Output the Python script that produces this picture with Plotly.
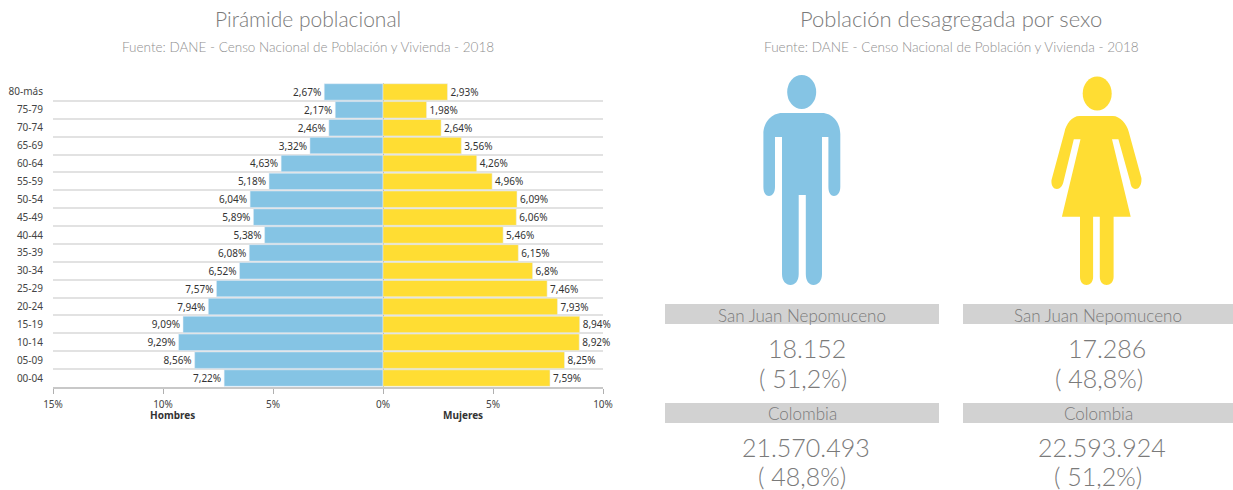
import plotly.graph_objects as go

age_groups = ["80-más","75-79","70-74","65-69","60-64","55-59","50-54","45-49","40-44","35-39","30-34","25-29","20-24","15-19","10-14","05-09","00-04"]
hombres = [2.67,2.17,2.46,3.32,4.63,5.18,6.04,5.89,5.38,6.08,6.52,7.57,7.94,9.09,9.29,8.56,7.22]
mujeres = [2.93,1.98,2.64,3.56,4.26,4.96,6.09,6.06,5.46,6.15,6.8,7.46,7.93,8.94,8.92,8.25,7.59]
tick_values = [-15,-10,-5,0,5,10]
tick_labels = ["15%","10%","5%","0%","5%","10%"]

BLUE = "#85C4E4"
YELLOW = "#FFDD33"
W, H = 1233, 490
LIGHT = "Lato"
LABEL = "Noto Sans"

def fmt(v):
    return f"{v:g}".replace(".", ",") + "%"

fig = go.Figure()
fig.add_trace(go.Bar(y=age_groups, x=[-v for v in hombres], orientation="h", marker=dict(color=BLUE),
                     text=[fmt(v) for v in hombres], textposition="outside", cliponaxis=False,
                     textfont=dict(size=10, color="#333", family=LABEL), name="Hombres"))
fig.add_trace(go.Bar(y=age_groups, x=mujeres, orientation="h", marker=dict(color=YELLOW),
                     text=[fmt(v) for v in mujeres], textposition="outside", cliponaxis=False,
                     textfont=dict(size=10, color="#333", family=LABEL), name="Mujeres"))
# pixel-mapped overlay axes for icons and text blocks
fig.add_trace(go.Scatter(x=[0], y=[0], xaxis="x2", yaxis="y2", mode="markers",
                         marker=dict(opacity=0), hoverinfo="skip", showlegend=False))

def man():
    return ("M 782 113 L 822 113 C 832 113 840.3 122 840.3 134 L 840.3 187 C 840.3 193 837 196 834 196 "
            "C 831 196 828.4 193 828.4 187 L 828.4 137 L 822 137 L 822 274 C 822 281 818 285 813.5 285 "
            "C 809 285 805.8 281 805.8 274 L 805.8 195 L 798.7 195 L 798.7 274 C 798.7 281 795 285 790.5 285 "
            "C 786 285 782 281 782 274 L 782 137 L 775 137 L 775 187 C 775 193 772 196 769 196 "
            "C 766 196 763.4 193 763.4 187 L 763.4 134 C 763.4 122 772 113 782 113 Z")

def woman():
    return ("M 1079.4 116 L 1112.8 116 C 1120 116 1127 124 1128.8 132 L 1141.4 178 C 1142 185 1139 189 1135.5 189 "
            "C 1132 189 1130.5 185 1130.3 182 L 1118.4 139.3 L 1112 139.3 L 1130.7 216.7 L 1113.6 216.7 L 1113.6 277 "
            "C 1113.6 282 1110 285 1106.7 285 C 1103 285 1099.8 282 1099.8 277 L 1099.8 216.7 L 1093.1 216.7 L 1093.1 277 "
            "C 1093.1 282 1090 285 1086.5 285 C 1083 285 1080 282 1080 277 L 1080 216.7 L 1061.9 216.7 L 1080.5 139.3 L 1073.8 139.3 "
            "L 1063.4 182 C 1062.5 186 1060 189 1057 189 C 1053 189 1051 185 1051.5 180 L 1064.5 132 C 1066 124 1072 116 1079.4 116 Z")

shapes = []
def rect(x0, x1, y0, y1):
    shapes.append(dict(type="rect", xref="x2", yref="y2", x0=x0, x1=x1, y0=y0, y1=y1,
                       fillcolor="#D2D2D2", line=dict(width=0), layer="below"))
rect(665,939,304,324); rect(963,1233,304,324); rect(665,939,403,423); rect(963,1233,403,423)
shapes.append(dict(type="path", xref="x2", yref="y2", path=man(), fillcolor=BLUE, line=dict(width=0)))
shapes.append(dict(type="path", xref="x2", yref="y2", path=woman(), fillcolor=YELLOW, line=dict(width=0)))
shapes.append(dict(type="circle", xref="x2", yref="y2", x0=787.2, x1=816.2, y0=75, y1=109, fillcolor=BLUE, line=dict(width=0)))
shapes.append(dict(type="circle", xref="x2", yref="y2", x0=1082.7, x1=1111.7, y0=76.5, y1=110.5, fillcolor=YELLOW, line=dict(width=0)))

annots = []
def txt(x, y, s, size, color="#7a7a7a", family=LIGHT, weight=300):
    annots.append(dict(xref="x2", yref="y2", x=x, y=y, text=s, showarrow=False, xanchor="center", yanchor="middle",
                       font=dict(size=size, color=color, family=family, weight=weight)))
txt(308,18,"Pirámide poblacional",21)
txt(308,47,"Fuente: DANE - Censo Nacional de Población y Vivienda - 2018",13.5,"#8f8f8f")
txt(951,18,"Población desagregada por sexo",22)
txt(951,47,"Fuente: DANE - Censo Nacional de Población y Vivienda - 2018",13.6,"#8f8f8f")
for x, xn, a, b, c, d in [(802,807,"18.152","( 51,2%)","21.570.493","( 48,8%)"),(1098,1107,"17.286","( 48,8%)","22.593.924","( 51,2%)")]:
    txt(x,315,"San Juan Nepomuceno",17)
    txt(x,413,"Colombia",17)
    txt(xn,348,a,25); txt(x+1,378,b,25); txt(x+4,447,c,25); txt(x,476,d,25)
txt(172,415,"Hombres",10,"#333",LABEL,700)
txt(463,415,"Mujeres",10,"#333",LABEL,700)

fig.update_layout(
    width=W, height=H, autosize=False, margin=dict(l=0,r=0,t=0,b=0),
    paper_bgcolor="white", plot_bgcolor="rgba(0,0,0,0)", showlegend=False,
    barmode="overlay", bargap=0.08, shapes=shapes, annotations=annots,
    xaxis=dict(domain=[53/W,603/W], range=[-15,10], tickvals=tick_values, ticktext=tick_labels, automargin=False,
               showgrid=False, zeroline=True, zerolinecolor="#aaaaaa", zerolinewidth=1,
               showline=True, linecolor="#c8c8c8", linewidth=2, ticks="outside", ticklen=5, tickcolor="#b0b0b0",
               tickfont=dict(size=10, color="#444", family=LABEL), ticklabelstandoff=2, fixedrange=True),
    yaxis=dict(domain=[1-387/H,1-83/H], type="category", categoryorder="array", categoryarray=age_groups, autorange="reversed", automargin=False,
               tickson="boundaries", showgrid=True, gridcolor="#e2e2e2", gridwidth=1.5, ticks="",
               tickfont=dict(size=10, color="#444", family=LABEL), ticklabelstandoff=9, fixedrange=True),
    xaxis2=dict(domain=[0,1], range=[0,W], visible=False, anchor="y2", fixedrange=True, automargin=False),
    yaxis2=dict(domain=[0,1], range=[H,0], visible=False, anchor="x2", fixedrange=True, automargin=False),
)
fig.write_html("out.html", config={"displayModeBar": False},
               post_script="document.body.style.margin='0';")
